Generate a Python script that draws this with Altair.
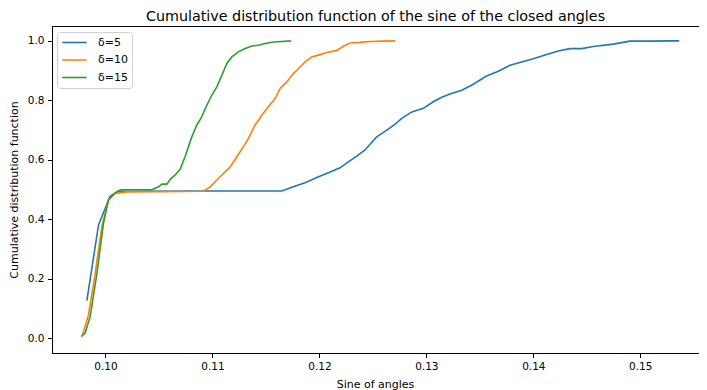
import altair as alt
import pandas as pd

series_names = ["δ=5", "δ=10", "δ=15"]
series_colors = ["#1f77b4", "#ff7f0e", "#2ca02c"]

d5_x = [0.09826, 0.09935, 0.10044, 0.10121, 0.1100, 0.11648, 0.11757, 0.11866, 0.11976, 0.12084,
        0.12193, 0.12271, 0.12349, 0.12427, 0.1248, 0.12536, 0.1263, 0.12708, 0.12770, 0.12864,
        0.12972, 0.13065, 0.13144, 0.13222, 0.13331, 0.13439, 0.13558, 0.13673, 0.13782, 0.13891,
        0.14, 0.14125, 0.14234, 0.14343, 0.14452, 0.14561, 0.14748, 0.14903, 0.15121, 0.15278, 0.15364]
d5_y = [0.126, 0.381, 0.478, 0.494, 0.495, 0.495, 0.509, 0.523, 0.540, 0.556,
        0.573, 0.593, 0.612, 0.633, 0.655, 0.677, 0.700, 0.720, 0.739, 0.761,
        0.773, 0.795, 0.810, 0.821, 0.834, 0.854, 0.881, 0.898, 0.918, 0.929,
        0.940, 0.954, 0.966, 0.974, 0.974, 0.981, 0.989, 0.999, 0.999, 1.0, 1.0]

d10_x = [0.09785, 0.09841, 0.09904, 0.09966, 0.10028, 0.10091, 0.1020, 0.1050, 0.10916, 0.10979,
         0.11041, 0.11103, 0.11166, 0.11228, 0.1129, 0.11337, 0.11399, 0.11462, 0.11523, 0.11586,
         0.11633, 0.11695, 0.11757, 0.11820, 0.11866, 0.11929, 0.11991, 0.12053, 0.12163, 0.12224,
         0.12287, 0.1238, 0.12474, 0.12598, 0.12708]
d10_y = [0.011, 0.078, 0.218, 0.375, 0.465, 0.487, 0.492, 0.493, 0.494, 0.509,
         0.532, 0.554, 0.576, 0.610, 0.644, 0.672, 0.717, 0.750, 0.778, 0.806,
         0.840, 0.862, 0.890, 0.912, 0.929, 0.946, 0.952, 0.959, 0.968, 0.982,
         0.993, 0.995, 0.998, 0.999, 1.0]

d15_x = [0.09773, 0.0981, 0.09857, 0.0992, 0.09981, 0.10028, 0.10091, 0.1014, 0.1030, 0.10434,
         0.10496, 0.10527, 0.10574, 0.10605, 0.10651, 0.10698, 0.10745, 0.10807, 0.10854, 0.10892,
         0.10948, 0.10994, 0.11041, 0.11088, 0.11135, 0.11181, 0.11243, 0.11306, 0.11368, 0.1143,
         0.11493, 0.1157, 0.11649, 0.11736]
d15_y = [0.005, 0.017, 0.073, 0.218, 0.386, 0.465, 0.489, 0.499, 0.499, 0.499,
         0.509, 0.518, 0.518, 0.534, 0.549, 0.568, 0.611, 0.677, 0.717, 0.739,
         0.784, 0.817, 0.845, 0.884, 0.924, 0.946, 0.963, 0.974, 0.983, 0.985,
         0.991, 0.996, 0.998, 1.0]

x_ticks = [0.10, 0.11, 0.12, 0.13, 0.14, 0.15]
y_ticks = [0.0, 0.2, 0.4, 0.6, 0.8, 1.0]

rows = []
for name, xs, ys in zip(series_names, [d5_x, d10_x, d15_x], [d5_y, d10_y, d15_y]):
    for i, (xv, yv) in enumerate(zip(xs, ys)):
        rows.append({"x": xv, "y": yv, "series": name, "i": i})
df = pd.DataFrame(rows)

FONT = "DejaVu Sans"
W, H = 647, 327

chart = alt.Chart(df).mark_line(strokeWidth=1.6, clip=True).encode(
    x=alt.X("x:Q", scale=alt.Scale(domain=[0.0950, 0.15549], nice=False, zero=False),
            axis=alt.Axis(values=x_ticks, format=".2f", title="Sine of angles",
                          titleX=323, titleY=31, titleBaseline="middle",
                          titleAlign="center")),
    y=alt.Y("y:Q", scale=alt.Scale(domain=[-0.05, 1.05], nice=False, zero=False),
            axis=alt.Axis(values=y_ticks, format=".1f", title="Cumulative distribution function",
                          titleX=-37.5, titleY=H / 2, titleAngle=-90, titleBaseline="middle",
                          titleAlign="center")),
    color=alt.Color("series:N",
                    scale=alt.Scale(domain=series_names, range=series_colors),
                    legend=alt.Legend(title=None, orient="none", legendX=5, legendY=6,
                                      symbolType="stroke", symbolSize=600, symbolStrokeWidth=1.6,
                                      labelFont=FONT, labelFontSize=11, labelColor="black",
                                      labelOffset=10, rowPadding=4.5, clipHeight=13,
                                      strokeColor="#d0d0d0", fillColor="white", cornerRadius=3,
                                      padding=4)),
    order="i:Q",
).properties(
    width=W, height=H,
    title=alt.TitleParams("Cumulative distribution function of the sine of the closed angles",
                          font=FONT, fontSize=14.3, fontWeight="normal", color="black",
                          anchor="middle", offset=2),
    autosize=alt.AutoSizeParams(type="none"),
    padding={"left": 44, "top": 18, "right": 0, "bottom": 37},
).configure_view(
    stroke="black", strokeWidth=1
).configure_axis(
    labelFont=FONT, labelFontSize=10.5, labelColor="black",
    titleFont=FONT, titleFontSize=11, titleColor="black", titleFontWeight="normal",
    domainColor="black", domainWidth=1, tickColor="black", tickSize=4.5, tickWidth=1,
    labelPadding=3.5, grid=False,
)

chart.save("out.html", embed_options={"renderer": "svg", "actions": False})
